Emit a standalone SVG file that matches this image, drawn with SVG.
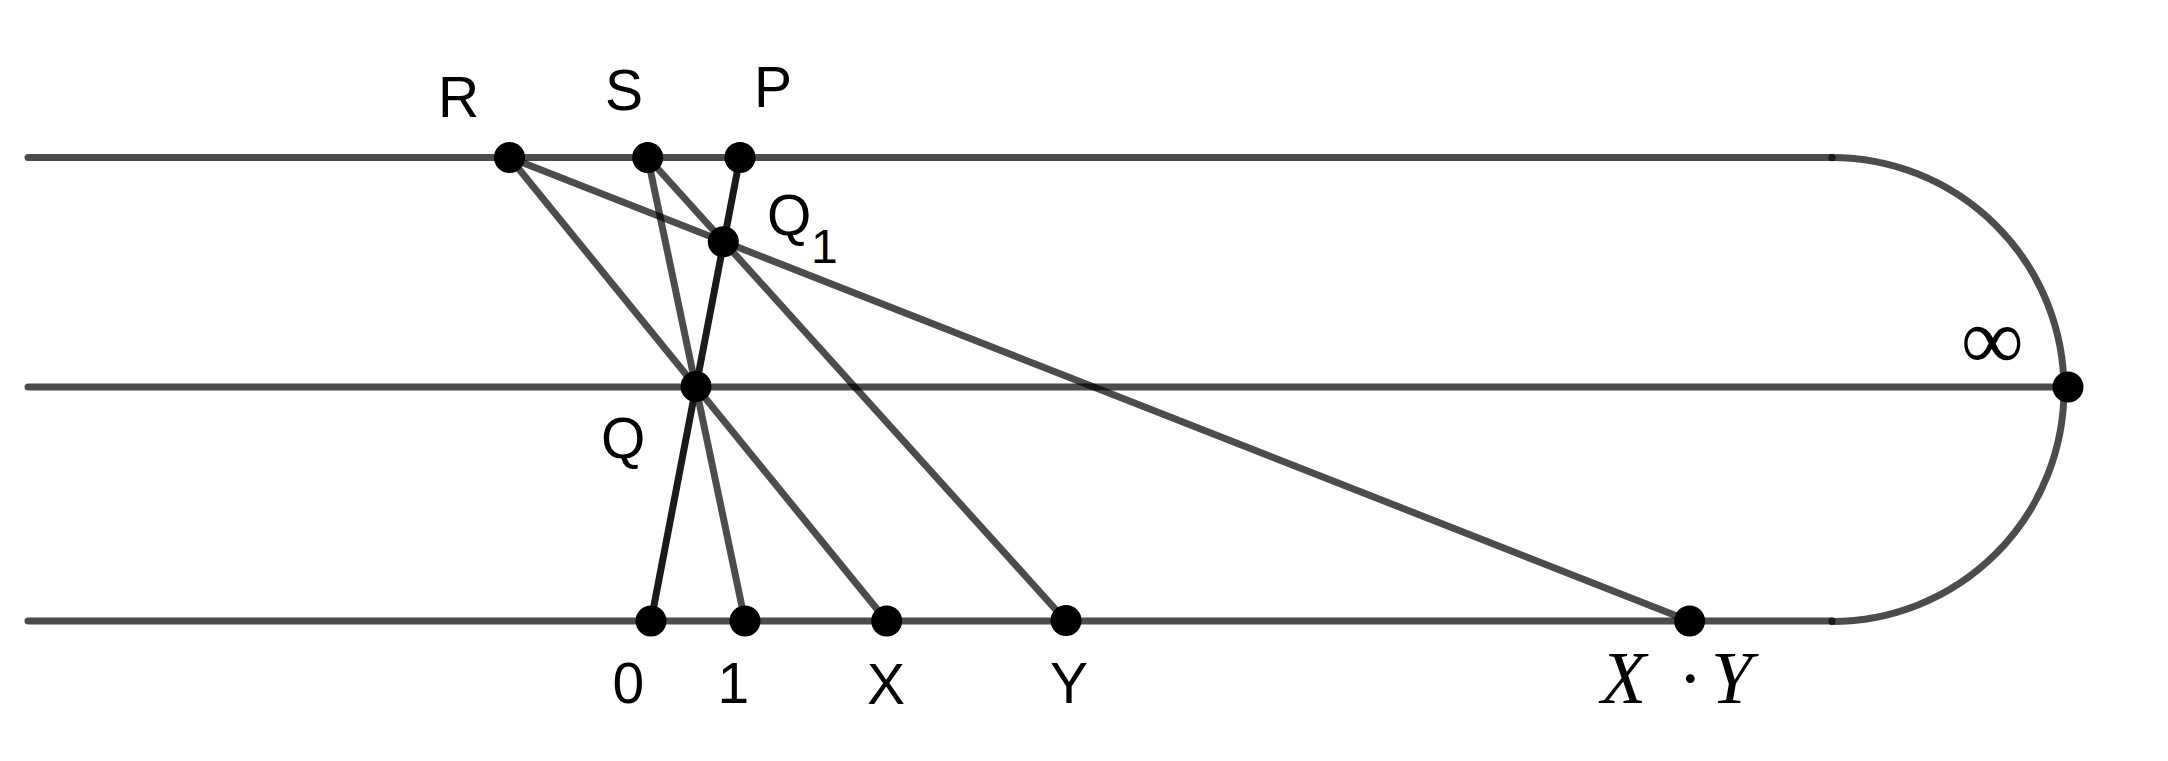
<svg xmlns="http://www.w3.org/2000/svg" width="2168" height="761" viewBox="0 0 2168 761">
  <style>
    .ln { stroke: #000; stroke-opacity: 0.7; stroke-width: 7; fill: none; stroke-linecap: round; }
    .dk { stroke: #1a1a1a; stroke-width: 7; fill: none; stroke-linecap: round; }
    .pt { fill: #000; }
    .jn { fill: #1a1a1a; }
    .lbl { font-family: "Liberation Sans", Arial, sans-serif; font-size: 57px; fill: #000; }
    .sub { font-family: "Liberation Sans", Arial, sans-serif; font-size: 48px; fill: #000; }
    .math { font-family: "Liberation Serif", "Times New Roman", serif; fill: #000; }
  </style>
  <rect x="0" y="0" width="2168" height="761" fill="#fff"/>
  <g id="connectors">
    <line class="ln" x1="28" y1="157.5" x2="1832" y2="157.5"/>
    <line class="ln" x1="28" y1="387" x2="2068" y2="387"/>
    <line class="ln" x1="28" y1="621" x2="1832" y2="621"/>
    <path class="ln" d="M1832,157.5 A232,232 0 0 1 1832,621.5"/>
    <line class="ln" x1="509.5" y1="157.5" x2="886.7" y2="621"/>
    <line class="ln" x1="647.7" y1="157.5" x2="745" y2="621"/>
    <line class="ln" x1="647.7" y1="157.5" x2="1066" y2="621"/>
    <line class="ln" x1="509.5" y1="157.5" x2="1689.6" y2="621"/>
    <line class="dk" x1="740" y1="157.5" x2="651" y2="621"/>
  </g>
  <g id="junctions">
    <circle class="jn" cx="1832" cy="157.7" r="3.5"/>
    <circle class="jn" cx="1832" cy="621" r="3.5"/>
  </g>
  <g id="R"><circle class="pt" cx="509.5" cy="157.5" r="15.5"/><text class="lbl" x="438" y="117">R</text></g>
  <g id="S"><circle class="pt" cx="647.7" cy="157.5" r="15.5"/><text class="lbl" x="605" y="110">S</text></g>
  <g id="P"><circle class="pt" cx="740" cy="157.5" r="15.5"/><text class="lbl" x="754" y="107">P</text></g>
  <g id="Q1"><circle class="pt" cx="723.3" cy="241.7" r="15.5"/><text class="lbl" x="767" y="235">Q<tspan class="sub" x="811" y="263">1</tspan></text></g>
  <g id="Q"><circle class="pt" cx="696" cy="386.5" r="15.5"/><text class="lbl" x="601" y="458">Q</text></g>
  <g id="zero"><circle class="pt" cx="651" cy="621" r="15.5"/><text class="lbl" x="612.5" y="703">0</text></g>
  <g id="one"><circle class="pt" cx="745" cy="621" r="15.5"/><text class="lbl" x="717.5" y="703">1</text></g>
  <g id="X"><circle class="pt" cx="886.7" cy="621" r="15.5"/><text class="lbl" x="867" y="704">X</text></g>
  <g id="Y"><circle class="pt" cx="1066" cy="620.5" r="15.5"/><text class="lbl" x="1050" y="703">Y</text></g>
  <g id="XY"><circle class="pt" cx="1689.6" cy="621" r="15.5"/><text class="math" font-size="74" y="703"><tspan x="1601" font-style="italic">X</tspan><tspan x="1678">·</tspan><tspan x="1711" font-style="italic">Y</tspan></text></g>
  <g id="infinity"><circle class="pt" cx="2068" cy="387" r="15.5"/><text class="math" font-size="88" x="1961" y="369">∞</text></g>
</svg>
